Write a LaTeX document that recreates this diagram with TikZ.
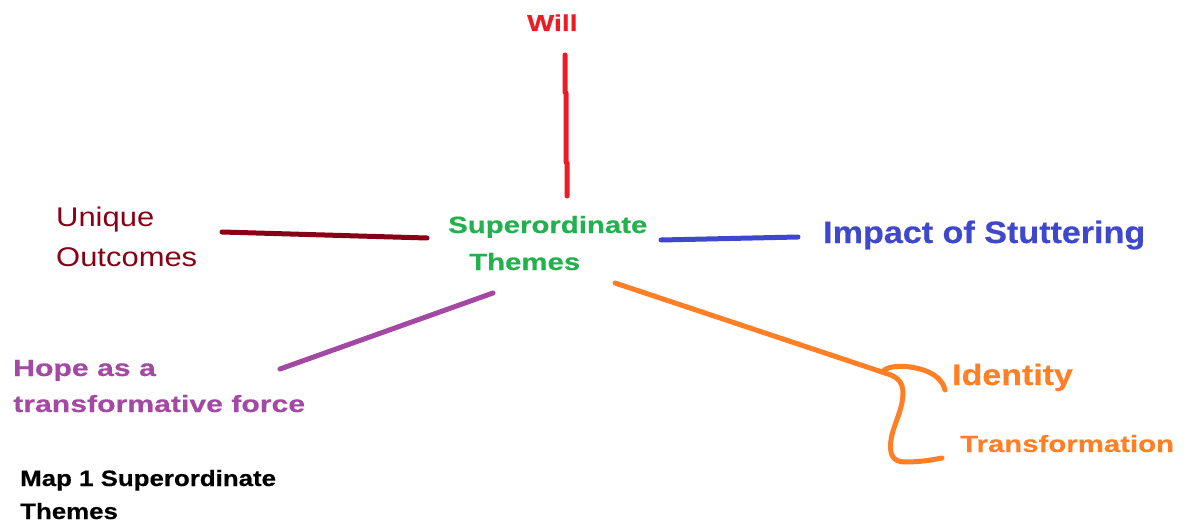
\documentclass[tikz,border=0pt]{standalone}
\usepackage{fontspec}
\setmainfont{Liberation Sans}
\definecolor{cRed}{HTML}{ED1C24}
\definecolor{cDarkRed}{HTML}{880015}
\definecolor{cGreen}{HTML}{22B14C}
\definecolor{cIndigo}{HTML}{3F48CC}
\definecolor{cPurple}{HTML}{A349A4}
\definecolor{cOrange}{HTML}{FF7F27}
% label fonts: size (px), horizontal stretch, line distance (px)
\newcommand{\lblfont}[3]{\fontspec{Liberation Sans}[FakeStretch=#2]\fontsize{#1pt}{#3pt}\selectfont}
\newcommand{\heavyfont}[3]{\fontspec{Liberation Sans Bold}[FakeStretch=#2,FakeBold=0.4]\fontsize{#1pt}{#3pt}\selectfont}
\tikzset{
  lbl/.style={anchor=base west, inner sep=0pt, align=left},
  stroke/.style={line width=5pt, line cap=round, line join=round}
}
\begin{document}
\begin{tikzpicture}[x=1pt,y=-1pt]
\useasboundingbox[fill=white] (0,0) rectangle (1189,524);

% labels (multi-line labels are placed by the baseline of their last line)
\node[lbl, text=cRed, font=\heavyfont{23}{1.24}{28}] (will) at (527,31) {Will};
\node[lbl, text=cGreen, font=\heavyfont{23.5}{1.25}{37}] (center) at (448,270)
  {Superordinate\\\hspace*{21pt}Themes};
\node[lbl, text=cDarkRed, font=\lblfont{27}{1.146}{40}] (unique) at (56,266) {Unique\\Outcomes};
\node[lbl, text=cIndigo, font=\heavyfont{31}{1.1}{37}] (impact) at (823,243) {Impact of Stuttering};
\node[lbl, text=cPurple, font=\heavyfont{23.5}{1.285}{36}] (hope) at (13,412)
  {Hope as a\\transformative force};
\node[lbl, text=cOrange, font=\heavyfont{29.5}{1.15}{36}] (identity) at (952,385) {Identity};
\node[lbl, text=cOrange, font=\heavyfont{23.5}{1.25}{36}] (transf) at (960,452) {Transformation};
\node[lbl, text=black, font=\heavyfont{22.3}{1.16}{33}] (caption) at (20,519)
  {Map 1 Superordinate\\Themes};

% connector end points
\coordinate (willEnd) at (565,55);
\coordinate (willJ1) at (565,92);
\coordinate (willJ2) at (566,93);
\coordinate (willJ3) at (566,162);
\coordinate (willJ4) at (567,163);
\coordinate (willStart) at (567,196);
\coordinate (uniqueEnd) at (222,232);
\coordinate (uniqueStart) at (427,238);
\coordinate (impactStart) at (661,240);
\coordinate (impactEnd) at (798,237);
\coordinate (hopeEnd) at (280,369);
\coordinate (hopeStart) at (493,293);
\coordinate (orangeStart) at (615,283);
\coordinate (brace) at (885,373);
\coordinate (braceTop) at (882,372);
\coordinate (identityEnd) at (945,390);
\coordinate (transfEnd) at (942,458);

% connectors
\draw[stroke, cRed] (willStart) -- (willJ4) -- (willJ3) -- (willJ2) -- (willJ1) -- (willEnd);
\draw[stroke, cDarkRed] (uniqueStart) -- (uniqueEnd);
\draw[stroke, cIndigo] (impactStart) -- (impactEnd);
\draw[stroke, cPurple] (hopeStart) -- (hopeEnd);
\draw[stroke, cOrange] (orangeStart) -- (brace);
\draw[stroke, cOrange] (braceTop) .. controls (888,365) and (905,365) .. (920,369)
  .. controls (935,373) and (943,381) .. (identityEnd);
\draw[stroke, cOrange] (brace) .. controls (895,376) and (903,380) .. (903,393)
  .. controls (903,410) and (893,425) .. (891,440)
  .. controls (889,455) and (893,462) .. (905,462)
  .. controls (920,462) and (932,460) .. (transfEnd);
\end{tikzpicture}
\end{document}
